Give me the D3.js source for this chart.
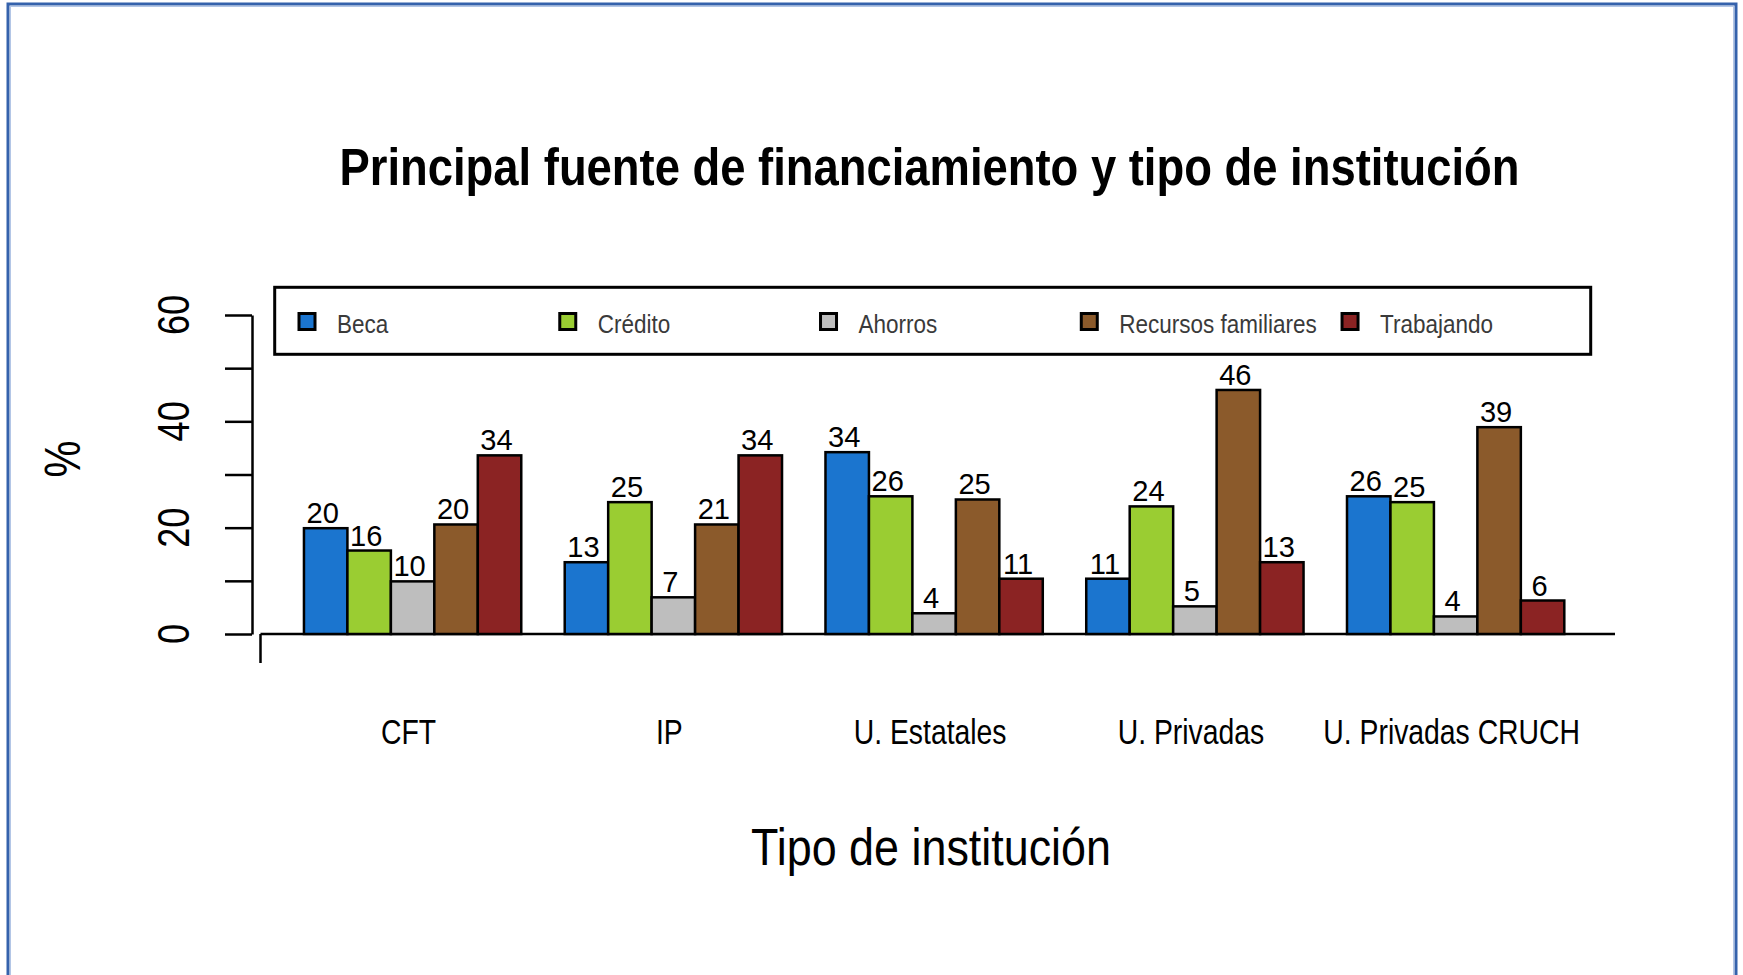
<!DOCTYPE html>
<html>
<head>
<meta charset="utf-8">
<script src="https://cdn.jsdelivr.net/npm/d3@7"></script>
<style>
  body { margin: 0; background: #fff; }
  text { font-family: "Liberation Sans", Arial, sans-serif; }
</style>
</head>
<body>
<div class="chart"></div>
<script>
// data
const institutions = ["CFT", "IP", "U. Estatales", "U. Privadas", "U. Privadas CRUCH"];
const series = ["Beca", "Crédito", "Ahorros", "Recursos familiares", "Trabajando"];
const colors = ["#1b75cf", "#9acd32", "#bebebe", "#8b5a2b", "#8b2323"];

const beca       = [19.9, 13.5, 34.2, 10.4, 25.9];
const credito    = [15.7, 24.8, 25.9, 24.0, 24.8];
const ahorros    = [9.9, 6.9, 3.9, 5.2, 3.3];
const recursos   = [20.6, 20.6, 25.3, 45.9, 38.9];
const trabajando = [33.6, 33.6, 10.4, 13.5, 6.3];

// labels printed above the bars
const becaLbl       = [20, 13, 34, 11, 26];
const creditoLbl    = [16, 25, 26, 24, 25];
const ahorrosLbl    = [10, 7, 4, 5, 4];
const recursosLbl   = [20, 21, 25, 46, 39];
const trabajandoLbl = [34, 34, 11, 13, 6];

const yTicks = [0, 10, 20, 30, 40, 50, 60];
const yTickLabels = [0, 20, 40, 60];

const values = [beca, credito, ahorros, recursos, trabajando];
const labels = [becaLbl, creditoLbl, ahorrosLbl, recursosLbl, trabajandoLbl];

const width = 1743, height = 975;
const unit = 43.46, left = 260.5;

const svg = d3.select(".chart").append("svg")
    .attr("width", width)
    .attr("height", height);

svg.append("rect").attr("width", width).attr("height", height).attr("fill", "#fff");

// frame around the picture
svg.append("rect")
    .attr("x", 8).attr("y", 4).attr("width", 1728).attr("height", 1000)
    .attr("fill", "none").attr("stroke", "#3562ac").attr("stroke-width", 3);
svg.append("rect")
    .attr("x", 10.5).attr("y", 6.5).attr("width", 1723).attr("height", 1000)
    .attr("fill", "none").attr("stroke", "#b3c6e6").attr("stroke-width", 1);

const x0 = d3.scaleBand()
    .domain(institutions)
    .range([left, left + 31 * unit])
    .paddingInner(1 / 6)
    .paddingOuter(1 / 6);

const x1 = d3.scaleBand()
    .domain(series)
    .range([0, x0.bandwidth()]);

const y = d3.scaleLinear()
    .domain([0, 60])
    .range([634, 315]);

// helper for the narrow looking text
function label(g, x, yy, txt, size, sx, opts = {}) {
    const t = g.append("text")
        .attr("transform", `translate(${x},${yy})` + (opts.rot ? ` rotate(${opts.rot})` : "") + ` scale(${sx},1)`)
        .attr("text-anchor", opts.anchor || "middle")
        .attr("font-size", size)
        .attr("fill", opts.fill || "#000")
        .text(txt);
    if (opts.bold) t.attr("font-weight", "bold");
    return t;
}

// title
label(svg, 929.5, 185, "Principal fuente de financiamiento y tipo de institución", 51, 0.89, {bold: true});

// y axis
const yAxis = d3.axisLeft(y).tickValues(yTicks).tickSize(27).tickSizeOuter(0).tickFormat("");
const gy = svg.append("g")
    .attr("class", "y-axis")
    .attr("transform", "translate(252,0)")
    .call(yAxis);
gy.selectAll("path, line").attr("stroke", "#000").attr("stroke-width", 2.5);

yTickLabels.forEach(v => {
    label(svg, 189, y(v), v, 44, 0.82, {rot: -90});
});

label(svg, 80, 459, "%", 50, 0.83, {rot: -90});

// x axis line
svg.append("line")
    .attr("x1", x0.range()[0]).attr("x2", 1615)
    .attr("y1", y(0)).attr("y2", y(0))
    .attr("stroke", "#000").attr("stroke-width", 2.5);
svg.append("line")
    .attr("x1", x0.range()[0]).attr("x2", x0.range()[0])
    .attr("y1", y(0)).attr("y2", y(0) + 29)
    .attr("stroke", "#000").attr("stroke-width", 2.5);

// bars
const groups = svg.selectAll(".group")
    .data(institutions)
    .enter()
    .append("g")
    .attr("class", "group")
    .attr("transform", d => `translate(${x0(d)},0)`);

groups.each(function (inst, i) {
    const g = d3.select(this);
    series.forEach((s, j) => {
        const v = values[j][i];
        g.append("rect")
            .attr("x", x1(s))
            .attr("y", y(v))
            .attr("width", x1.bandwidth())
            .attr("height", y(0) - y(v))
            .attr("fill", colors[j])
            .attr("stroke", "#000")
            .attr("stroke-width", 2.5);
        label(g, x1(s) + x1.bandwidth() / 2 - 3, y(v) - 5, labels[j][i], 30, 0.97);
    });
    label(g, x0.bandwidth() / 2 - 4, 744, inst, 35, 0.81);
});

// x title
label(svg, 931, 865, "Tipo de institución", 51, 0.88);

// legend
svg.append("rect")
    .attr("x", 274.7).attr("y", 287.3).attr("width", 1316).attr("height", 67)
    .attr("fill", "#fff").attr("stroke", "#000").attr("stroke-width", 3);

const legStep = x0.step();
series.forEach((s, j) => {
    const cx = 307 + legStep * j;
    svg.append("rect")
        .attr("x", cx - 8).attr("y", 313.5).attr("width", 16).attr("height", 16)
        .attr("fill", colors[j]).attr("stroke", "#000").attr("stroke-width", 3);
    label(svg, 337 + legStep * j, 333, s, 25, 0.9, {anchor: "start", fill: "#3a3a3a"});
});
</script>
</body>
</html>
